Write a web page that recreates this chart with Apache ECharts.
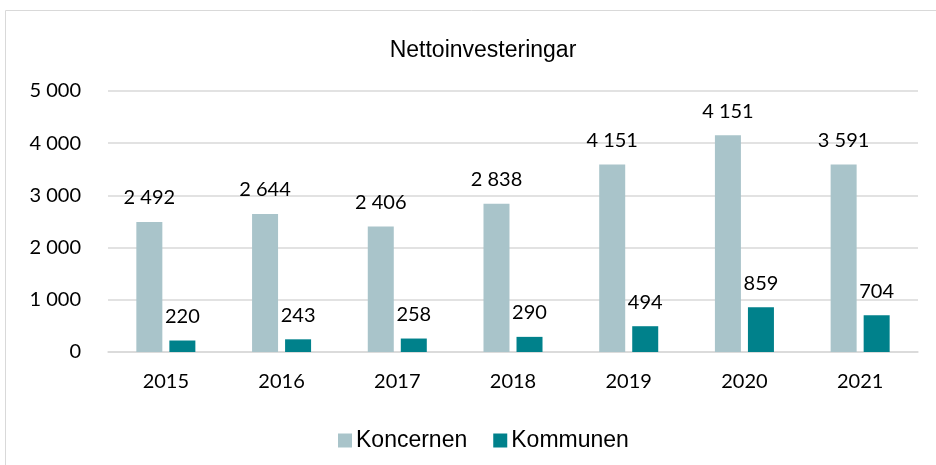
<!DOCTYPE html>
<html>
<head>
<meta charset="utf-8">
<script src="https://cdn.jsdelivr.net/npm/echarts@6/dist/echarts.min.js"></script>
<style>
  html, body { margin: 0; padding: 0; background: #fff; }
  #main { width: 936px; height: 465px; }
</style>
</head>
<body>
<div id="main"></div>
<script>
// år
const years = ["2015", "2016", "2017", "2018", "2019", "2020", "2021"];
// stapelhöjder
const koncernen = [2492, 2644, 2406, 2838, 3591, 4151, 3591];
const kommunen = [220, 243, 258, 290, 494, 859, 704];
// etiketter som de står i originalet
const koncernenLabels = ["2 492", "2 644", "2 406", "2 838", "4 151", "4 151", "3 591"];
const kommunenLabels = ["220", "243", "258", "290", "494", "859", "704"];
const yTicks = [0, 1000, 2000, 3000, 4000, 5000];

function fmt(v) {
  return String(v).replace(/\B(?=(\d{3})+(?!\d))/g, " ");
}

var myChart = echarts.init(document.getElementById("main"));
var labelFont = { fontFamily: "Lato", fontSize: 20, color: "#000" };

var option = {
  animation: false,
  graphic: [
    {
      type: "rect",
      shape: { x: 5.5, y: 10.5, width: 940, height: 470 },
      style: { fill: "none", stroke: "#d9d9d9", lineWidth: 1 },
      silent: true,
    },
  ],
  title: {
    text: "Nettoinvesteringar",
    left: 478,
    top: 34,
    textAlign: "center",
    textStyle: {
      fontFamily: "Liberation Sans",
      fontSize: 23,
      fontWeight: "normal",
      color: "#000",
    },
  },
  legend: {
    left: 333,
    top: 424,
    itemWidth: 14,
    itemHeight: 14,
    itemGap: 26,
    icon: "rect",
    textStyle: {
      fontFamily: "Liberation Sans",
      fontSize: 23,
      color: "#000",
      padding: [0, 0, 0, -1],
    },
    data: ["Koncernen", "Kommunen"],
  },
  grid: {
    left: 108,
    right: 18,
    top: 91,
    bottom: 113,
  },
  xAxis: {
    type: "category",
    data: years,
    axisTick: { show: false },
    axisLine: { lineStyle: { color: "#d9d9d9", width: 1.5 } },
    axisLabel: Object.assign({ margin: 20 }, labelFont),
  },
  yAxis: {
    type: "value",
    min: yTicks[0],
    max: yTicks[yTicks.length - 1],
    interval: 1000,
    axisLine: { show: false },
    axisTick: { show: false },
    splitLine: { lineStyle: { color: "#d9d9d9", width: 1.5 } },
    axisLabel: Object.assign(
      {
        margin: 27,
        formatter: function (v) {
          return fmt(v);
        },
      },
      labelFont
    ),
  },
  series: [
    {
      name: "Koncernen",
      type: "bar",
      data: koncernen,
      barWidth: 26,
      barGap: "27%",
      itemStyle: { color: "#a9c4ca" },
      label: Object.assign(
        {
          show: true,
          position: "top",
          distance: 14,
          formatter: function (p) {
            return koncernenLabels[p.dataIndex];
          },
        },
        labelFont
      ),
    },
    {
      name: "Kommunen",
      type: "bar",
      data: kommunen,
      barWidth: 26,
      barGap: "27%",
      itemStyle: { color: "#00818b" },
      label: Object.assign(
        {
          show: true,
          position: "top",
          distance: 14,
          formatter: function (p) {
            return kommunenLabels[p.dataIndex];
          },
        },
        labelFont
      ),
    },
  ],
};

option && myChart.setOption(option);
</script>
</body>
</html>
